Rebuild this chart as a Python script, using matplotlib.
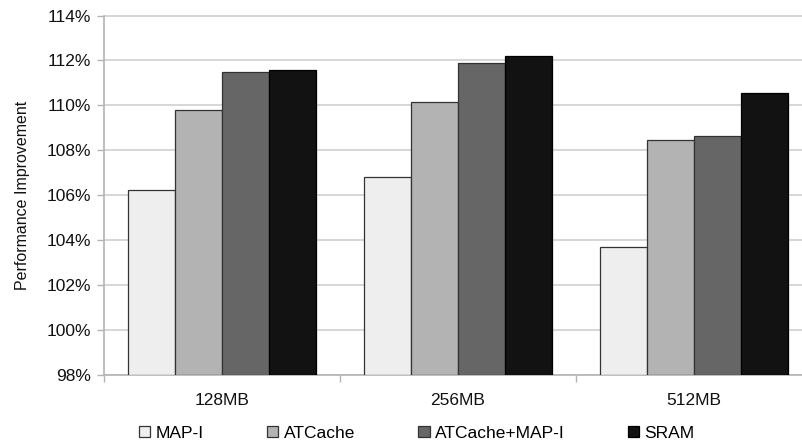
import matplotlib
matplotlib.use("Agg")
import matplotlib.pyplot as plt
from matplotlib.patches import Patch
import numpy as np

plt.rcParams['font.family'] = ['Liberation Sans', 'DejaVu Sans']

categories = ["128MB", "256MB", "512MB"]
series_names = ["MAP-I", "ATCache", "ATCache+MAP-I", "SRAM"]
map_i = [106.24, 106.81, 103.68]
atcache = [109.80, 110.14, 108.48]
atcache_map_i = [111.49, 111.89, 108.64]
sram = [111.56, 112.21, 110.54]
series_values = [map_i, atcache, atcache_map_i, sram]
colors = ["#eeeeee", "#b3b3b3", "#666666", "#121212"]
edges = ["#333333", "#333333", "#333333", "#000000"]
y_ticks = list(range(98, 115, 2))

W, H = 803, 446
fig = plt.figure(figsize=(W / 100, H / 100), dpi=100)
ax = fig.add_axes([104 / W, (H - 375) / H, 708 / W, 359.5 / H])

x = np.arange(len(categories))
bw = 0.2
for i, (vals, c, e) in enumerate(zip(series_values, colors, edges)):
    ax.bar(x + (i - 1.5) * bw, np.array(vals) - 98, bottom=98, width=bw,
           color=c, edgecolor=e, linewidth=0.9, zorder=3)

ax.set_xlim(-0.5, 2.5)
ax.set_ylim(98, 114)
ax.set_yticks(y_ticks)
ax.set_yticklabels([f"{t}%" for t in y_ticks])
ax.yaxis.grid(True, color="#d0d0d0", linewidth=1.2, zorder=0)

ax.set_xticks([-0.5, 0.5, 1.5, 2.5])
ax.set_xticklabels([])
ax.set_xticks(x, minor=True)
ax.set_xticklabels(categories, minor=True)
ax.tick_params(axis='x', which='minor', length=0, pad=13, labelsize=12.5, labelcolor="#111111")
ax.tick_params(axis='x', which='major', length=5, width=1, color="#b3b3b3")
ax.tick_params(axis='y', length=5, width=1, color="#b3b3b3", pad=4,
               labelsize=12.5, labelcolor="#111111")

for s in ["top", "right"]:
    ax.spines[s].set_visible(False)
for s in ["left", "bottom"]:
    ax.spines[s].set_color("#b3b3b3")
    ax.spines[s].set_linewidth(1.2)

ax.set_ylabel("Performance Improvement", fontsize=11.5, color="#111111", labelpad=12)

handles = [Patch(facecolor=c, edgecolor=e, linewidth=0.9) for c, e in zip(colors, edges)]
fig.legend(handles, series_names, loc="center", bbox_to_anchor=(0.519, 0.029),
           ncol=4, frameon=False, fontsize=12.5, handlelength=0.65, handleheight=0.65,
           handletextpad=0.3, columnspacing=3.65, borderaxespad=0)

fig.savefig("out.png", dpi=100)
